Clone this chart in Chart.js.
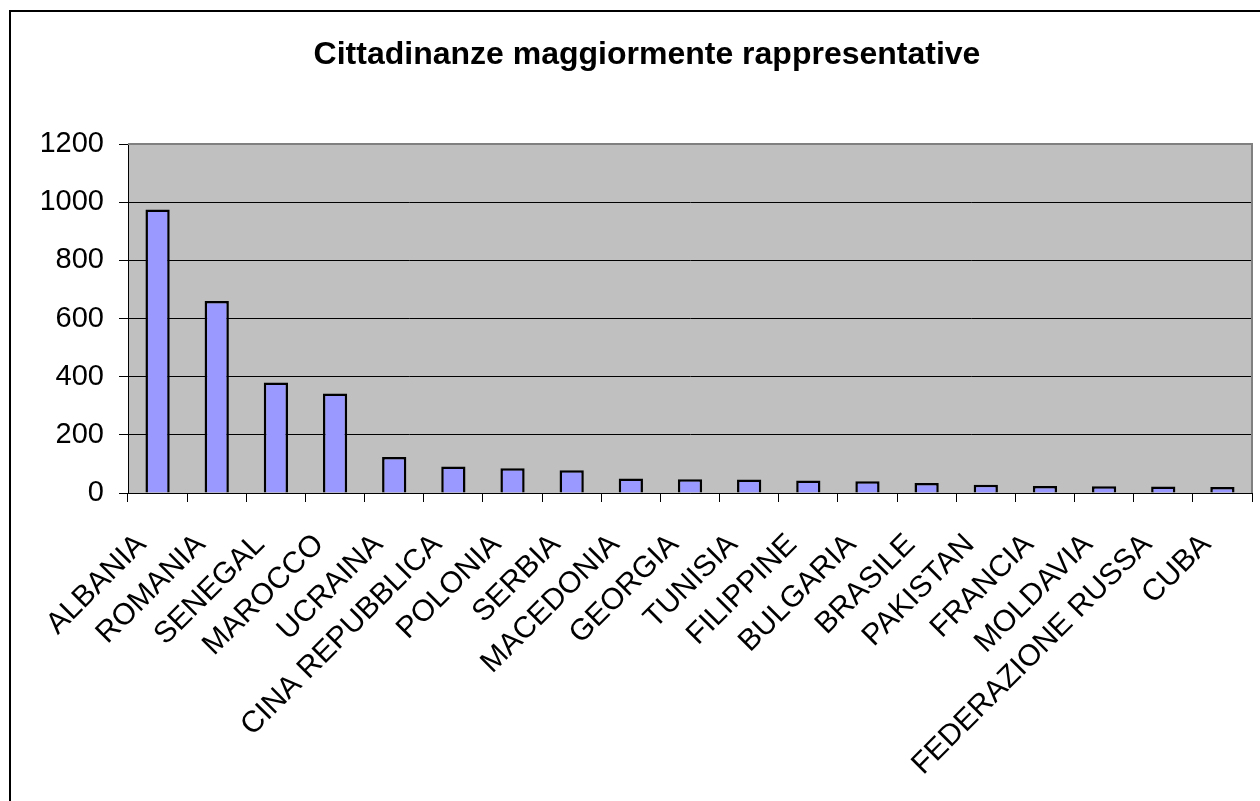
<!DOCTYPE html>
<html>
<head>
<meta charset="utf-8">
<script src="https://cdn.jsdelivr.net/npm/chart.js@4"></script>
<style>
  html, body { margin: 0; padding: 0; background: #fff; }
  #box { width: 1260px; height: 801px; }
</style>
</head>
<body>
<div id="box"><canvas id="cittChart" width="1260" height="801"></canvas></div>
<script>
var paesi = ['ALBANIA', 'ROMANIA', 'SENEGAL', 'MAROCCO', 'UCRAINA', 'CINA REPUBBLICA', 'POLONIA', 'SERBIA',
    'MACEDONIA', 'GEORGIA', 'TUNISIA', 'FILIPPINE', 'BULGARIA', 'BRASILE', 'PAKISTAN', 'FRANCIA',
    'MOLDAVIA', 'FEDERAZIONE RUSSA', 'CUBA'];
var cittadini = [975, 660, 380, 342, 124, 91, 85, 78, 50, 47, 46, 43, 40, 34, 28, 24, 23, 22, 21];
var yTicks = [0, 200, 400, 600, 800, 1000, 1200];

var FONT = '"Liberation Sans", Arial, sans-serif';

// cornice esterna + sfondo grigio dell'area del grafico
var sfondo = {
    id: 'sfondo',
    beforeDraw: function(chart) {
        var c = chart.ctx, a = chart.chartArea;
        c.save();
        c.fillStyle = '#c0c0c0';
        c.fillRect(a.left, a.top, a.right - a.left, a.bottom - a.top);
        c.strokeStyle = '#000';
        c.lineWidth = 2;
        c.beginPath();
        c.moveTo(10, 801);
        c.lineTo(10, 11);
        c.lineTo(1260, 11);
        c.stroke();
        c.restore();
    },
    afterDatasetsDraw: function(chart) {
        var c = chart.ctx, a = chart.chartArea;
        c.save();
        c.strokeStyle = '#808080';
        c.lineWidth = 2;
        c.beginPath();
        c.moveTo(a.left, a.top);
        c.lineTo(a.right, a.top);
        c.lineTo(a.right, a.bottom);
        c.stroke();
        c.restore();
    }
};

var ctx = document.getElementById('cittChart').getContext('2d');
var chart = new Chart(ctx, {
    type: 'bar',
    data: {
        labels: paesi,
        datasets: [{
            label: 'Cittadini',
            data: cittadini,
            backgroundColor: '#9999ff',
            borderColor: '#000',
            borderWidth: 2.5,
            barPercentage: 0.41,
            categoryPercentage: 1
        }]
    },
    options: {
        responsive: false,
        animation: false,
        layout: { padding: { top: 11, right: 8, left: 42, bottom: 0 } },
        plugins: {
            legend: { display: false },
            tooltip: { enabled: false },
            title: {
                display: true,
                text: 'Cittadinanze maggiormente rappresentative',
                color: '#000',
                font: { family: FONT, size: 32, weight: 'bold', lineHeight: 1.2 },
                padding: { top: 25, bottom: 69.6 }
            }
        },
        scales: {
            x: {
                grid: { drawOnChartArea: false, drawTicks: true, tickLength: 9, color: '#000', offset: true },
                border: { color: '#000', width: 1 },
                ticks: {
                    color: '#000',
                    font: { family: FONT, size: 30 },
                    minRotation: 45,
                    maxRotation: 45,
                    autoSkip: false,
                    labelOffset: -16,
                    padding: 25
                },
                afterFit: function(s) {
                    s.height = 308;
                    s.paddingLeft = 0;
                    s.paddingRight = 0;
                }
            },
            y: {
                min: 0,
                max: 1200,
                afterBuildTicks: function(s) { s.ticks = yTicks.map(function(v) { return { value: v }; }); },
                grid: { color: '#000', lineWidth: 1, tickLength: 9 },
                border: { color: '#000', width: 1 },
                ticks: {
                    color: '#000',
                    font: { family: FONT, size: 29 },
                    padding: 15,
                    callback: function(v) { return String(v); }
                },
                afterFit: function(s) { s.width = 86; }
            }
        }
    },
    plugins: [sfondo]
});
</script>
</body>
</html>
